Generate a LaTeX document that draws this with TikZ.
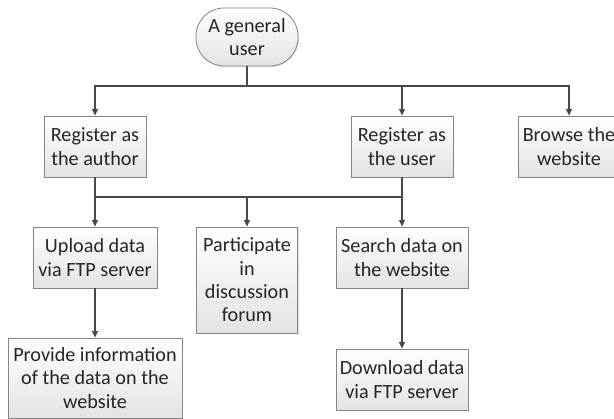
\documentclass[tikz,border=0pt]{standalone}
\usepackage{fontspec}
\setmainfont{Carlito}
\usetikzlibrary{arrows.meta,shadows,calc}
\definecolor{linec}{HTML}{4A4A4A}
\definecolor{boxc}{HTML}{858585}
\begin{document}
\begin{tikzpicture}[x=1pt,y=1pt,
  boxstyle/.style={draw=boxc, line width=0.8pt, top color=white, bottom color=black!11,
    drop shadow={shadow xshift=1pt, shadow yshift=-1pt, opacity=0.25},
    align=center, inner sep=0pt, text=black!85,
    font=\fontsize{20.2}{23.3}\selectfont},
  conn/.style={draw=linec, line width=1.3pt},
  arr/.style={conn, -{Triangle[length=6.5pt,width=6pt]}}]
\useasboundingbox (0,0) rectangle (614,-419);
\begin{scope}
\clip (0,0) rectangle (614,-419);
\node[boxstyle, rounded corners=28pt, minimum width=102pt, minimum height=58pt] (top) at (247,-37) {A general\\user};
\node[boxstyle, minimum width=102pt, minimum height=61pt] (ua) at (95,-146.5) {Register as\\the author};
\node[boxstyle, minimum width=102pt, minimum height=61pt] (ru) at (402,-146.5) {Register as\\the user};
\node[boxstyle, minimum width=102pt, minimum height=61pt] (bw) at (569,-146.5) {Browse the\\website};
\node[boxstyle, minimum width=124pt, minimum height=61pt] (up) at (95,-257.5) {Upload data\\via FTP server};
\node[boxstyle, minimum width=101pt, minimum height=106pt] (pa) at (247,-280) {Participate\\in\\discussion\\forum};
\node[boxstyle, minimum width=132pt, minimum height=61pt] (se) at (402,-257.5) {Search data on\\the website};
\node[boxstyle, minimum width=174pt, minimum height=80pt] (pr) at (95,-378) {Provide information\\of the data on the\\website};
\node[boxstyle, minimum width=132pt, minimum height=61pt] (dl) at (402,-379.5) {Download data\\via FTP server};
\coordinate (m1) at (247,-86);
\coordinate (m2) at (247,-197);
\draw[conn] (top.south) -- (m1);
\draw[arr] (m1) -| (ua.north);
\draw[arr] (m1) -| (ru.north);
\draw[arr] (m1) -| (bw.north);
\draw[conn] (ua.south) |- (m2);
\draw[conn] (ru.south) |- (m2);
\draw[arr] (m2) -- (pa.north);
\draw[arr] (m2 -| up.north) -- (up.north);
\draw[arr] (m2 -| se.north) -- (se.north);
\draw[arr] (up.south) -- (pr.north);
\draw[arr] (se.south) -- (dl.north);
\end{scope}
\end{tikzpicture}
\end{document}
